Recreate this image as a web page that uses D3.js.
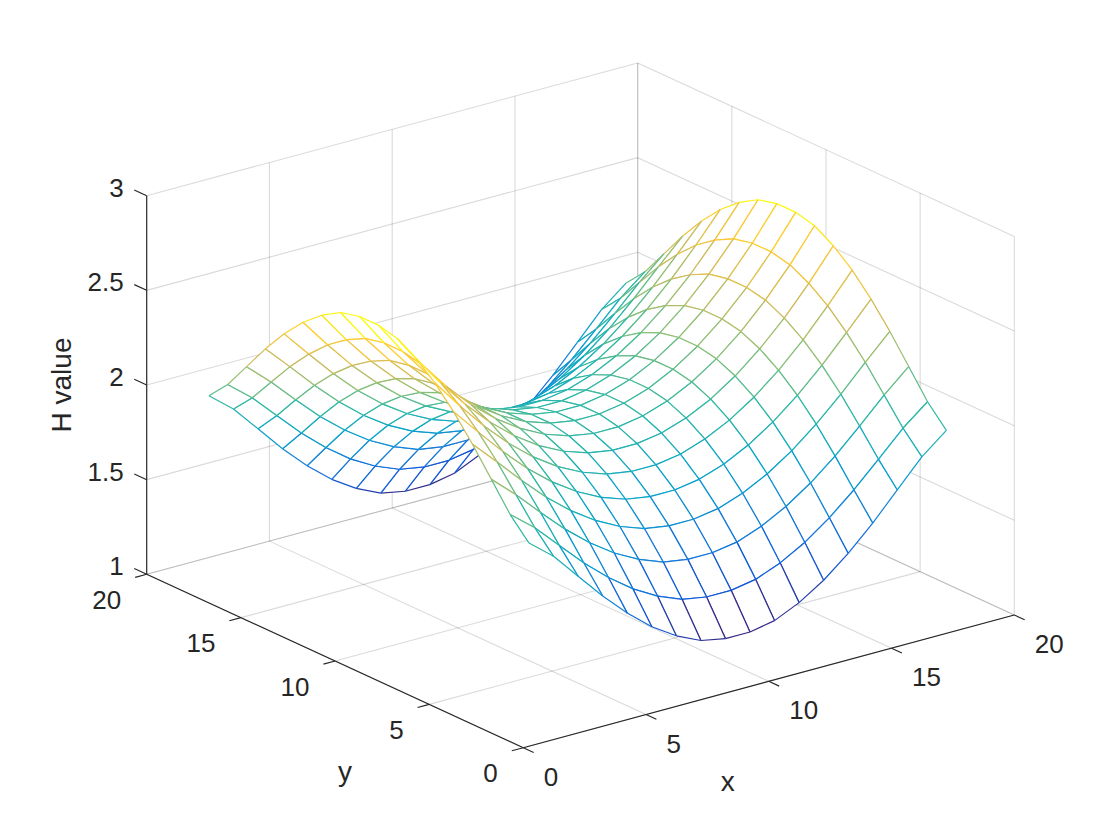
<!DOCTYPE html>
<html><head><meta charset="utf-8">
<script src="https://cdnjs.cloudflare.com/ajax/libs/d3/7.8.5/d3.min.js"></script>
<style>html,body{margin:0;padding:0;background:#fff}svg{display:block}text{font-family:"Liberation Sans",Arial,sans-serif;fill:#262626}</style>
</head><body><svg id="c" width="1120" height="840"></svg>
<script>
const gridX = [1,2,3,4,5,6,7,8,9,10,11,12,13,14,15,16,17,18];
const gridY = [1,2,3,4,5,6,7,8,9,10,11,12,13,14,15,16,17,18];
// H value per row of x, per column of y
const heights = [
[2.000,2.105,2.245,2.385,2.510,2.617,2.700,2.760,2.785,2.785,2.760,2.700,2.617,2.510,2.385,2.245,2.105,2.000],
[1.895,2.000,2.129,2.256,2.368,2.463,2.536,2.588,2.611,2.611,2.588,2.536,2.463,2.368,2.256,2.129,2.000,1.895],
[1.755,1.871,2.000,2.123,2.230,2.319,2.388,2.437,2.458,2.458,2.437,2.388,2.319,2.230,2.123,2.000,1.871,1.755],
[1.615,1.744,1.877,2.000,2.106,2.193,2.260,2.306,2.327,2.327,2.306,2.260,2.193,2.106,2.000,1.877,1.744,1.615],
[1.490,1.632,1.770,1.894,2.000,2.086,2.152,2.197,2.218,2.218,2.197,2.152,2.086,2.000,1.894,1.770,1.632,1.490],
[1.383,1.537,1.681,1.807,1.914,2.000,2.065,2.110,2.131,2.131,2.110,2.065,2.000,1.914,1.807,1.681,1.537,1.383],
[1.300,1.464,1.612,1.740,1.848,1.935,2.000,2.044,2.065,2.065,2.044,2.000,1.935,1.848,1.740,1.612,1.464,1.300],
[1.240,1.412,1.563,1.694,1.803,1.890,1.956,2.000,2.022,2.022,2.000,1.956,1.890,1.803,1.694,1.563,1.412,1.240],
[1.215,1.389,1.542,1.673,1.782,1.869,1.935,1.978,2.000,2.000,1.978,1.935,1.869,1.782,1.673,1.542,1.389,1.215],
[1.215,1.389,1.542,1.673,1.782,1.869,1.935,1.978,2.000,2.000,1.978,1.935,1.869,1.782,1.673,1.542,1.389,1.215],
[1.240,1.412,1.563,1.694,1.803,1.890,1.956,2.000,2.022,2.022,2.000,1.956,1.890,1.803,1.694,1.563,1.412,1.240],
[1.300,1.464,1.612,1.740,1.848,1.935,2.000,2.044,2.065,2.065,2.044,2.000,1.935,1.848,1.740,1.612,1.464,1.300],
[1.383,1.537,1.681,1.807,1.914,2.000,2.065,2.110,2.131,2.131,2.110,2.065,2.000,1.914,1.807,1.681,1.537,1.383],
[1.490,1.632,1.770,1.894,2.000,2.086,2.152,2.197,2.218,2.218,2.197,2.152,2.086,2.000,1.894,1.770,1.632,1.490],
[1.615,1.744,1.877,2.000,2.106,2.193,2.260,2.306,2.327,2.327,2.306,2.260,2.193,2.106,2.000,1.877,1.744,1.615],
[1.755,1.871,2.000,2.123,2.230,2.319,2.388,2.437,2.458,2.458,2.437,2.388,2.319,2.230,2.123,2.000,1.871,1.755],
[1.895,2.000,2.129,2.256,2.368,2.463,2.536,2.588,2.611,2.611,2.588,2.536,2.463,2.368,2.256,2.129,2.000,1.895],
[2.000,2.105,2.245,2.385,2.510,2.617,2.700,2.760,2.785,2.785,2.760,2.700,2.617,2.510,2.385,2.245,2.105,2.000]
];
const xTicks = [0,5,10,15,20];
const yTicks = [0,5,10,15,20];
const zTicks = [1,1.5,2,2.5,3];
const parula = ["#352a87","#0f5cdd","#1481d6","#06a4ca","#2eb7a4","#87bf77","#d1bb59","#fec832","#f9fb0e"];

const ox = 523.3, oy = 747.7;
const xPx = d3.scaleLinear([0,20],[0,491]), xPy = d3.scaleLinear([0,20],[0,-132.7]);
const yPx = d3.scaleLinear([0,20],[0,-376.6]), yPy = d3.scaleLinear([0,20],[0,-173.4]);
const zPy = d3.scaleLinear([1,3],[0,-378.6]);
const P = (x,y,z) => [ox + xPx(x) + yPx(y), oy + xPy(x) + yPy(y) + zPy(z)];
const line = (a,b) => "M" + a[0] + "," + a[1] + "L" + b[0] + "," + b[1];

const flat = heights.flat();
const zLo = d3.min(flat), zHi = d3.max(flat);
const colour = d3.scaleLinear()
  .domain(parula.map((_,i) => zLo + (zHi-zLo)*i/(parula.length-1)))
  .range(parula).interpolate(d3.interpolateRgb).clamp(true);

const svg = d3.select("#c");
svg.append("rect").attr("width",1120).attr("height",840).attr("fill","#fff");

// grid
const gridSegs = [];
xTicks.forEach(t => { gridSegs.push([P(t,0,1),P(t,20,1)]); gridSegs.push([P(t,20,1),P(t,20,3)]); });
yTicks.forEach(t => { gridSegs.push([P(0,t,1),P(20,t,1)]); gridSegs.push([P(20,t,1),P(20,t,3)]); });
zTicks.forEach(t => { gridSegs.push([P(0,20,t),P(20,20,t)]); gridSegs.push([P(20,0,t),P(20,20,t)]); });
svg.append("g").selectAll("path").data(gridSegs).join("path")
  .attr("d",d=>line(d[0],d[1])).attr("fill","none").attr("stroke","#262626").attr("stroke-opacity",.17).attr("stroke-width",1.1);

// axes
const axisSegs = [
  [P(0,0,1),P(20,0,1)],[P(0,0,1),P(0,20,1)],[P(0,20,1),P(0,20,3)],
  ...xTicks.map(t=>[P(t,0,1),P(t,-0.55,1)]),
  ...yTicks.map(t=>[P(0,t,1),P(-0.47,t,1)]),
  ...zTicks.map(t=>[P(0,20,t),P(0,20.66,t)])
];
svg.append("g").selectAll("path").data(axisSegs).join("path")
  .attr("d",d=>line(d[0],d[1])).attr("fill","none").attr("stroke","#262626").attr("stroke-width",1.15);

// tick labels
const T = svg.append("g").attr("font-size",26);
T.selectAll(".xl").data(xTicks).join("text").attr("class","xl")
  .attr("x",d=>P(d,0,1)[0]+20.5).attr("y",d=>P(d,0,1)[1]+38).text(d=>d);
T.selectAll(".yl").data(yTicks).join("text").attr("class","yl").attr("text-anchor","end")
  .attr("x",d=>P(0,d,1)[0]-25.5).attr("y",d=>P(0,d,1)[1]+34.5).text(d=>d);
T.selectAll(".zl").data(zTicks).join("text").attr("class","zl").attr("text-anchor","end")
  .attr("x",d=>P(0,20,d)[0]-23).attr("y",d=>P(0,20,d)[1]+1).text(d=>d);

// axis titles
const L = svg.append("g").attr("font-size",28);
L.append("text").attr("x",727.7).attr("y",791).attr("text-anchor","middle").text("x");
L.append("text").attr("x",345).attr("y",781).attr("text-anchor","middle").text("y");
L.append("text").attr("transform","translate(71,385) rotate(-90)").attr("text-anchor","middle").text("H value");

// mesh: painter's order from far corner to near corner
const meshG = svg.append("g");
const at = (i,j) => P(gridX[i],gridY[j],heights[i][j]);
for (let i = gridX.length-2; i >= 0; i--) {
  for (let j = gridY.length-2; j >= 0; j--) {
    const a = at(i,j), b = at(i+1,j), c = at(i+1,j+1), d = at(i,j+1);
    const q = meshG.append("g");
    q.append("path").attr("d","M"+[a,b,c,d].map(p=>p.join(",")).join("L")+"Z").attr("fill","#fff").attr("stroke","none");
    [[a,b,heights[i][j]],[a,d,heights[i][j]],[b,c,heights[i+1][j]],[d,c,heights[i][j+1]]].forEach(e=>{
      q.append("path").attr("d",line(e[0],e[1])).attr("fill","none").attr("stroke",colour(e[2])).attr("stroke-width",1.2);
    });
  }
}
</script></body></html>
